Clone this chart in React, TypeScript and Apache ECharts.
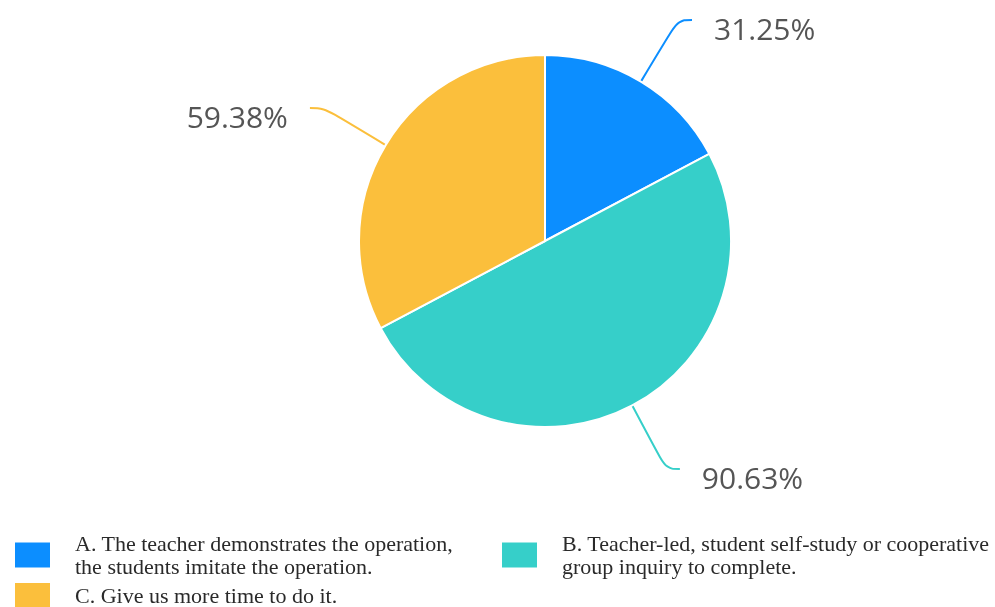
import React, { useEffect, useRef } from "react";
import * as echarts from "echarts";

const categories = [
  "A. The teacher demonstrates the operation,\nthe students imitate the operation.",
  "B. Teacher-led, student self-study or cooperative\ngroup inquiry to complete.",
  "C. Give us more time to do it.",
];
const values = [31.25, 90.63, 59.38];
const colors = ["#0C8EFF", "#36CFC9", "#FBBF3C"];

export default function App() {
  const ref = useRef<HTMLDivElement>(null);
  useEffect(() => {
    const chart = echarts.init(ref.current!, null, { renderer: "svg" });
    const legendText = {
      fontFamily: "'Liberation Serif', 'Times New Roman', serif",
      fontSize: 22,
      color: "#2a2a2a",
      lineHeight: 23,
      padding: [0, 0, 0, 19],
    };
    const legendCommon = {
      orient: "horizontal" as const,
      itemWidth: 37,
      itemHeight: 27,
      icon: "rect",
      textStyle: legendText,
      selectedMode: false,
    };
    chart.setOption({
      animation: false,
      color: colors,
      legend: [
        { ...legendCommon, left: 8, top: 527, data: [categories[0]] },
        { ...legendCommon, left: 495, top: 527, data: [categories[1]] },
        { ...legendCommon, left: 8, top: 576, data: [categories[2]] },
      ],
      series: [
        {
          type: "pie",
          center: [545, 241],
          radius: 186,
          startAngle: 90,
          clockwise: true,
          avoidLabelOverlap: false,
          itemStyle: { borderColor: "#fff", borderWidth: 2 },
          data: categories.map((c, i) => ({ name: c, value: values[i] })),
          label: {
            show: true,
            formatter: (p: any) => "\n" + p.value.toFixed(2) + "%",
            fontFamily: "'Open Sans', 'Noto Sans', sans-serif",
            fontSize: 30,
            lineHeight: 17,
            color: "#555",
            distanceToLabelLine: 22,
          },
          labelLine: {
            show: true,
            length: 72,
            length2: 14,
            smooth: 0.4,
            lineStyle: { width: 2 },
          },
        },
      ],
    });
    return () => chart.dispose();
  }, []);
  return (
    <div
      ref={ref}
      style={{ position: "fixed", left: 0, top: 0, width: 995, height: 607 }}
    />
  );
}
